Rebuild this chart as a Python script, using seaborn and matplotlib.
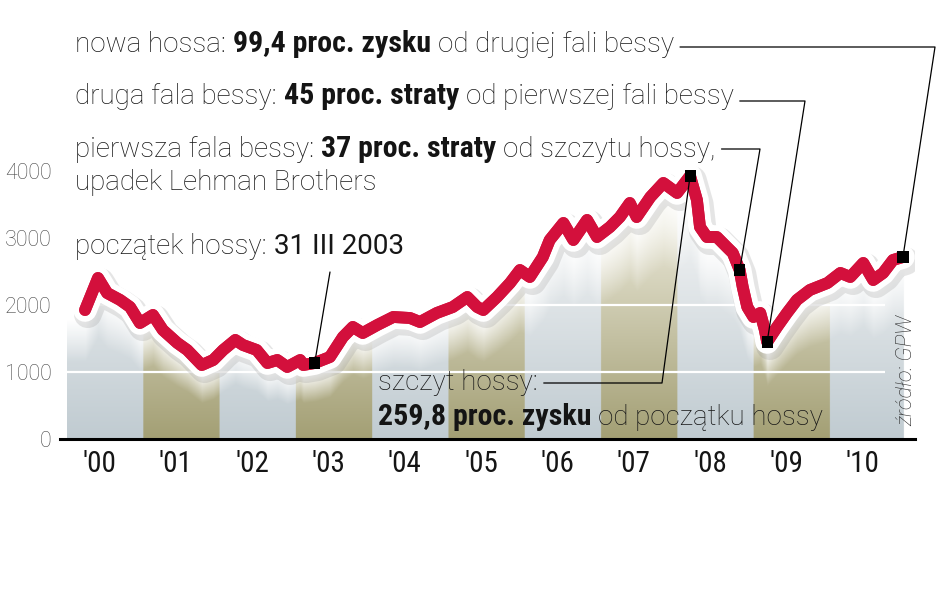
import numpy as np
import pandas as pd
import seaborn as sns
import matplotlib
matplotlib.use("Agg")
import matplotlib.pyplot as plt
from matplotlib import patheffects as pe

# ---------------- data ----------------
dates = [2000.24, 2000.41, 2000.53, 2000.70, 2000.83, 2000.96, 2001.13, 2001.26, 2001.45, 2001.58,
         2001.77, 2001.92, 2002.05, 2002.21, 2002.31, 2002.49, 2002.63, 2002.76, 2002.89, 2003.06,
         2003.10, 2003.25,
         2003.45, 2003.62, 2003.75, 2003.88, 2004.07, 2004.28, 2004.50, 2004.63, 2004.85, 2005.06,
         2005.25, 2005.38, 2005.46, 2005.64, 2005.81, 2005.94, 2006.07, 2006.24, 2006.33, 2006.51,
         2006.64, 2006.82, 2006.95, 2007.12, 2007.25, 2007.38, 2007.47, 2007.65, 2007.82, 2008.00,
         2008.17,
         2008.26, 2008.30, 2008.39, 2008.52, 2008.65, 2008.73, 2008.82, 2008.86, 2008.92, 2009.00,
         2009.09, 2009.15, 2009.18, 2009.31, 2009.44, 2009.57, 2009.74, 2009.97, 2010.14, 2010.27,
         2010.44, 2010.57, 2010.70, 2010.83, 2010.96]
wig20 = [1925, 2403, 2179, 2075, 1970, 1731, 1851, 1627, 1433, 1328,
         1104, 1179, 1328, 1478, 1403, 1328, 1134, 1179, 1075, 1179,
         1104, 1134,
         1224, 1522, 1672, 1582, 1701, 1821, 1806, 1746, 1881, 1970,
         2119, 1970, 1925, 2119, 2328, 2522, 2418, 2716, 2970, 3224,
         2970, 3269, 3015, 3164, 3313, 3522, 3313, 3612, 3821, 3672,
         3925,
         3567, 3164, 3015, 3015, 2866, 2776, 2522, 2269, 1970, 1821,
         1881, 1627, 1448, 1672, 1881, 2075, 2224, 2328, 2478, 2418,
         2627, 2373, 2478, 2672, 2716]
key_dates = [2003.25, 2008.17, 2008.82, 2009.18, 2010.96]
years = list(range(2000, 2011))
year_labels = ["'00", "'01", "'02", "'03", "'04", "'05", "'06", "'07", "'08", "'09", "'10"]
y_ticks = [0, 1000, 2000, 3000, 4000]
y_tick_labels = ["0", "1000", "2000", "3000", "4000"]
grid_levels = [1000, 2000]

# ---------------- style ----------------
sns.set_theme(style="white")
REG = ["Roboto", "DejaVu Sans"]
COND = ["Roboto Condensed", "Roboto", "DejaVu Sans"]
plt.rcParams["font.family"] = REG

W, H = 948, 593
fig = plt.figure(figsize=(W / 100, H / 100), dpi=100)
fig.patch.set_facecolor("white")
ax = fig.add_axes([60 / W, (H - 439) / H, (915 - 60) / W, 439 / H])

df = pd.DataFrame({"date": dates, "wig20": wig20})

# ---- band fill under the line, fading towards the line ----
gx = np.linspace(2000, 2011, 1101)
gv = np.linspace(0, 4300, 431)
line_at = np.interp(gx, df["date"], df["wig20"], left=df["wig20"].iloc[0], right=np.nan)
X, V = np.meshgrid(gx, gv)
Lm = line_at[None, :]
alpha = np.nan_to_num(np.clip((Lm - V - 150) / (150 + 0.25 * Lm), 0, 1))
odd = ((np.floor(X).astype(int) - 2000) % 2 == 1)[..., None]
t = np.clip(V / 3200, 0, 1)[..., None]
light_b = np.array([192, 203, 209]) / 255
light_t = np.array([240, 242, 243]) / 255
tan_b = np.array([163, 159, 116]) / 255
tan_t = np.array([232, 230, 214]) / 255
col = np.where(odd, tan_b * (1 - t) + tan_t * t, light_b * (1 - t) + light_t * t)
img = np.dstack([col, alpha])
ax.imshow(img, extent=(2000, 2011, 0, 4300), origin="lower", aspect="auto",
          interpolation="bilinear", zorder=1)

ax.hlines(grid_levels, 2000, 2010.72, colors="white", lw=1.6, zorder=2)

# ---- the index line ----
sns.lineplot(data=df, x="date", y="wig20", ax=ax, sort=False, color="#d3103c", lw=8.5,
             solid_joinstyle="round", solid_capstyle="round", zorder=4,
             path_effects=[pe.SimpleLineShadow(offset=(2, -3), shadow_color="0.55", alpha=0.22, linewidth=20),
                           pe.withStroke(linewidth=17, foreground="white"), pe.Normal()])

kidx = [int(np.argmin(np.abs(df["date"].values - k))) for k in key_dates]
kp = df.iloc[kidx]
sns.scatterplot(data=kp, x="date", y="wig20", marker="s", s=64, color="black",
                edgecolor="none", zorder=6, ax=ax)

ax.set_xlim(1999.912, 2011.118)
ax.set_ylim(0, 6552)
ax.set_xlabel("")
ax.set_ylabel("")
ax.grid(False)
ax.set_facecolor("none")
for s in ["top", "right", "left"]:
    ax.spines[s].set_visible(False)
ax.spines["bottom"].set_color("black")
ax.spines["bottom"].set_linewidth(2.2)
ax.set_xticks([y + 0.43 for y in years])
ax.set_xticklabels(year_labels, fontsize=21, family=COND, color="#151515")
ax.set_yticks(y_ticks)
ax.set_yticklabels(y_tick_labels, fontsize=15.5, color="#484848", fontweight="light")
ax.tick_params(axis="y", length=0, pad=6)
ax.tick_params(axis="x", length=0, pad=8)


# ---------------- annotations ----------------
def fxy(px, py):
    return px / W, 1 - py / H


STY = {
    "R": dict(family=REG, fontweight="light", color="#161616", fontsize=20),
    "M": dict(family=REG, fontweight="normal", color="#161616", fontsize=20),
    "B": dict(family=COND, fontweight="bold", color="#141414", fontsize=21.5),
}


def rich(px, py, segs, gap=5):
    x, y = fxy(px, py)
    prev = None
    for txt, kind in segs:
        if prev is None:
            t_ = fig.text(x, y, txt, va="baseline", ha="left", **STY[kind])
        else:
            t_ = ax.annotate(txt, xy=(1, 0), xycoords=prev, xytext=(gap, 0),
                             textcoords="offset points", va="bottom", ha="left",
                             annotation_clip=False, **STY[kind])
        prev = t_
    return prev


e1 = rich(75, 52, [("nowa hossa:", "R"), ("99,4 proc. zysku", "B"), ("od drugiej fali bessy", "R")])
e2 = rich(75, 104, [("druga fala bessy:", "R"), ("45 proc. straty", "B"), ("od pierwszej fali bessy", "R")])
e3 = rich(75, 157, [("pierwsza fala bessy:", "R"), ("37 proc. straty", "B"), ("od szczytu hossy,", "R")])
rich(75, 190, [("upadek Lehman Brothers", "R")])
rich(75, 254, [("początek hossy:", "R"), ("31 III 2003", "M")])
e6 = rich(378, 390, [("szczyt hossy:", "R")])
rich(378, 425, [("259,8 proc. zysku", "B"), ("od początku hossy", "R")])

fig.text(907 / W, 1 - 370 / H, "źródło: GPW", rotation=90, va="center", ha="center",
         fontsize=15.5, style="italic", fontweight="light", color="#2a2a2a", family=REG)

# ---- leader lines ----
fig.canvas.draw()
r = fig.canvas.get_renderer()
inv = ax.transData.inverted()


def to_data(px, py):
    return inv.transform((px, H - py))


def leader(end_artist, ypx, corner_px, k):
    bb = end_artist.get_window_extent(r)
    p0 = inv.transform((bb.x1 + 6, H - ypx))
    pc = to_data(corner_px, ypx)
    mx, my = kp["date"].iloc[k], kp["wig20"].iloc[k]
    ax.plot([p0[0], pc[0], mx], [p0[1], pc[1], my], color="black", lw=0.9, zorder=5,
            clip_on=False)


leader(e1, 47, 935, 4)
leader(e2, 101, 805, 3)
leader(e3, 149, 760, 2)
leader(e6, 383, 662, 1)
p0 = to_data(330, 272)
ax.plot([p0[0], kp["date"].iloc[0]], [p0[1], kp["wig20"].iloc[0]], color="black", lw=0.9,
        zorder=5, clip_on=False)

fig.savefig("out.png", dpi=100)
